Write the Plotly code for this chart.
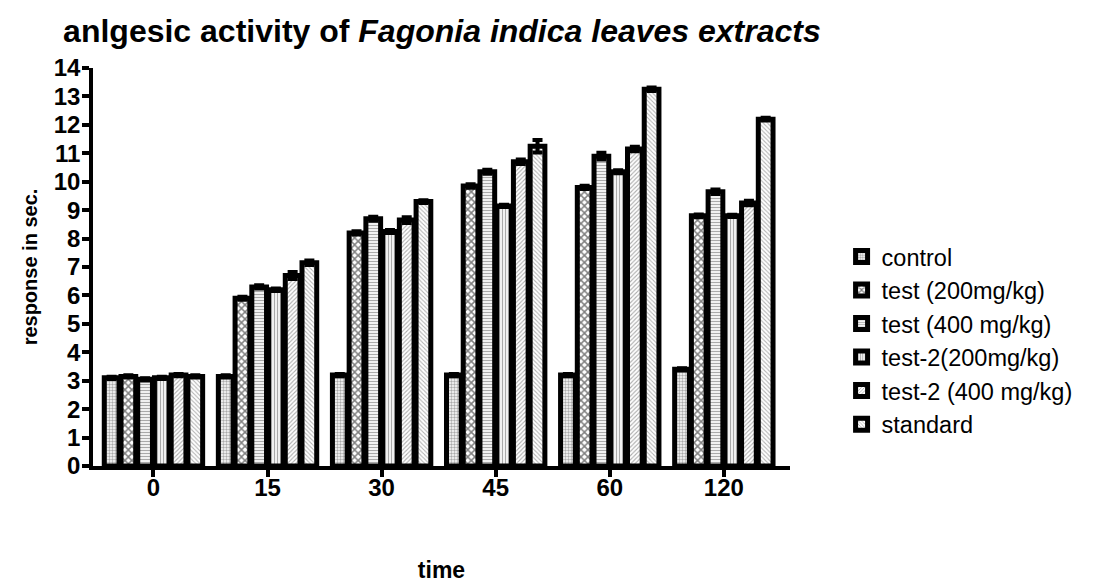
import plotly.graph_objects as go

categories = ["0", "15", "30", "45", "60", "120"]
series_names = ["control", "test (200mg/kg)", "test (400 mg/kg)",
                "test-2(200mg/kg)", "test-2 (400 mg/kg)", "standard"]
control = [3.1, 3.15, 3.2, 3.2, 3.2, 3.4]
test_200 = [3.15, 5.9, 8.2, 9.85, 9.8, 8.8]
test_400 = [3.05, 6.3, 8.7, 10.35, 10.9, 9.65]
test2_200 = [3.1, 6.2, 8.25, 9.15, 10.35, 8.8]
test2_400 = [3.2, 6.7, 8.65, 10.7, 11.15, 9.25]
standard = [3.15, 7.15, 9.3, 11.25, 13.25, 12.2]
err_control = [0.04, 0.04, 0.04, 0.04, 0.04, 0.04]
err_test_200 = [0.04, 0.05, 0.06, 0.06, 0.06, 0.05]
err_test_400 = [0.04, 0.06, 0.07, 0.07, 0.12, 0.08]
err_test2_200 = [0.04, 0.04, 0.05, 0.04, 0.05, 0.04]
err_test2_400 = [0.04, 0.12, 0.1, 0.08, 0.08, 0.08]
err_standard = [0.04, 0.08, 0.05, 0.22, 0.06, 0.05]

values = [control, test_200, test_400, test2_200, test2_400, standard]
errors = [err_control, err_test_200, err_test_400, err_test2_200, err_test2_400, err_standard]
patterns = [
    dict(shape=".", size=3, solidity=0.5, fgcolor="#555555"),
    dict(shape="x", size=5, solidity=0.5, fgcolor="black"),
    dict(shape="-", size=3, solidity=0.45, fgcolor="#555555"),
    dict(shape="|", size=3, solidity=0.45, fgcolor="#555555"),
    dict(shape="/", size=3, solidity=0.35, fgcolor="#555555"),
    dict(shape="\\", size=3, solidity=0.35, fgcolor="#666666"),
]

fig = go.Figure()
for name, vals, errs, pat in zip(series_names, values, errors, patterns):
    fig.add_trace(go.Bar(
        name=name, x=categories, y=vals,
        marker=dict(color="white",
                    line=dict(color="black", width=5),
                    pattern=dict(bgcolor="white", fillmode="overlay", **pat)),
        error_y=dict(type="data", array=errs, visible=True,
                     color="black", thickness=4, width=5),
    ))

font_family = "Liberation Sans, Arial, sans-serif"
fig.update_layout(
    barmode="group",
    bargap=0.12,
    bargroupgap=0.12,
    width=1102, height=587,
    paper_bgcolor="white", plot_bgcolor="white",
    margin=dict(l=85, r=320, t=60, b=129),
    font=dict(family=font_family, color="black"),
    title=dict(text="<b>anlgesic activity of <i>Fagonia indica leaves extracts</i></b>",
               x=0.05, xanchor="left", xref="container",
               y=0.962, yanchor="middle", yref="container",
               font=dict(size=32, color="black", family=font_family)),
    xaxis=dict(
        range=[-0.53, 5.58],
        automargin=False,
        showline=True, linecolor="black", linewidth=3.5,
        ticks="outside", ticklen=7, tickwidth=3.5, tickcolor="black",
        tickfont=dict(size=24, color="black", family=font_family),
        tickprefix="<b>", ticksuffix="</b>",
        ticklabelstandoff=-10,
        title=dict(text="<b>time</b>", font=dict(size=23, color="black"), standoff=63),
        showgrid=False, zeroline=False,
    ),
    yaxis=dict(
        range=[0, 14], dtick=1,
        showline=True, linecolor="black", linewidth=3.5,
        ticks="outside", ticklen=7, tickwidth=3.5, tickcolor="black",
        tickfont=dict(size=24, color="black", family=font_family),
        tickprefix="<b>", ticksuffix="</b>",
        ticklabelstandoff=-3,
        title=dict(text="<b>response in sec.</b>", font=dict(size=20, color="black"), standoff=12),
        showgrid=False, zeroline=False,
    ),
    legend=dict(x=1.074, xanchor="left", y=0.315, yanchor="middle",
                font=dict(size=23.5, color="black", family=font_family),
                tracegroupgap=0, bgcolor="rgba(0,0,0,0)"),
)

fig.write_html("out.html")
